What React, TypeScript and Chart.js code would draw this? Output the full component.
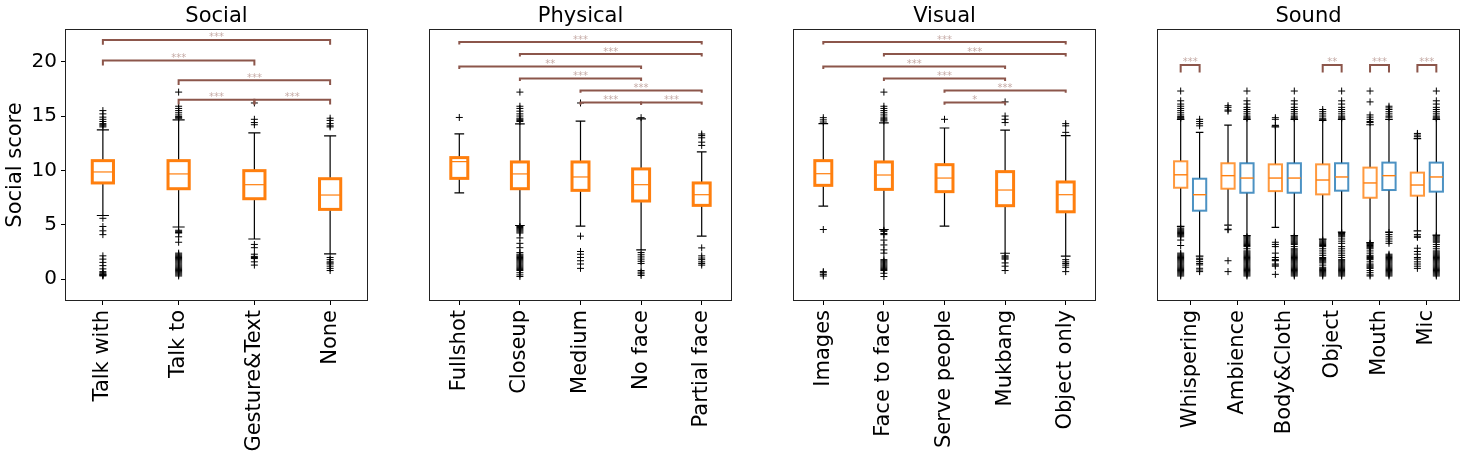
import React, { useEffect, useRef } from 'react';
import { Chart, registerables } from 'chart.js';

Chart.register(...registerables);
Chart.defaults.font.family = "'DejaVu Sans', sans-serif";

// ---------------- DATA ----------------
const socialLabels = ['Talk with', 'Talk to', 'Gesture&Text', 'None'];
const socialQ1 = [8.85, 8.32, 7.4, 6.42];
const socialMedian = [9.86, 9.68, 8.69, 7.74];
const socialQ3 = [10.9, 10.9, 9.98, 9.24];
const socialLow = [5.86, 4.8, 3.7, 2.33];
const socialHigh = [13.73, 14.65, 13.45, 13.18];
const socialOutliers = [
  [15.5, 15.2, 14.9, 14.7, 14.5, 14.3, 14.2, 14.1, 14.0, 5.6, 4.85, 4.45, 4.1, 2.15, 1.85, 1.55, 1.25, 0.95, 0.7, 0.6, 0.5, 0.45, 0.4, 0.35, 0.3],
  [17.2, 15.9, 15.7, 15.5, 15.3, 15.1, 14.95, 14.85, 14.8, 4.5, 4.4, 4.3, 4.25, 3.9, 3.4, 2.4, 2.3, 2.2, 2.1, 2.0, 1.9, 1.8, 1.7, 1.6, 1.5, 1.4, 1.3, 1.2, 1.1, 1.0, 0.9, 0.8, 0.7, 0.6, 0.5, 0.4, 0.3],
  [16.2, 14.7, 14.4, 14.2, 3.2, 2.9, 2.3, 2.1, 2.0, 1.9, 1.6, 1.3],
  [14.8, 14.6, 14.3, 14.1, 14.0, 2.0, 1.8, 1.6, 1.5, 1.4, 1.2, 1.0, 0.8],
];
const socialBrackets: [number, number, number, string][] = [
  [1, 4, 22.0, '***'],
  [1, 3, 20.1, '***'],
  [2, 4, 18.3, '***'],
  [2, 3, 16.5, '***'],
  [3, 4, 16.5, '***'],
];

const physicalLabels = ['Fullshot', 'Closeup', 'Medium', 'No face', 'Partial face'];
const physicalQ1 = [9.27, 8.32, 8.17, 7.19, 6.79];
const physicalMedian = [10.81, 9.68, 9.4, 8.69, 7.77];
const physicalQ3 = [11.18, 10.78, 10.78, 10.14, 8.85];
const physicalLow = [7.93, 4.94, 4.88, 2.7, 3.96];
const physicalHigh = [13.36, 14.28, 14.53, 14.74, 11.7];
const physicalOutliers = [
  [14.87],
  [17.2, 15.9, 15.7, 15.45, 15.2, 15.0, 14.8, 14.7, 14.6, 14.5, 4.85, 4.75, 4.65, 4.55, 4.45, 4.35, 4.25, 3.8, 3.3, 2.9, 2.45, 2.3, 2.2, 2.1, 2.0, 1.9, 1.8, 1.7, 1.6, 1.5, 1.4, 1.3, 1.2, 1.1, 1.0, 0.9, 0.8, 0.6, 0.4, 0.25],
  [16.2, 3.96, 2.55, 2.3, 2.0, 1.7, 1.4, 1.0],
  [14.85, 2.45, 2.25, 2.05, 1.85, 1.65, 1.45, 0.8, 0.65, 0.5, 0.35],
  [13.35, 13.2, 13.0, 12.6, 12.3, 2.88, 2.15, 1.95, 1.8, 1.6, 1.45, 1.3],
];
const physicalBrackets: [number, number, number, string][] = [
  [1, 5, 21.8, '***'],
  [2, 5, 20.7, '***'],
  [1, 4, 19.55, '**'],
  [2, 4, 18.45, '***'],
  [3, 5, 17.35, '***'],
  [3, 4, 16.25, '***'],
  [4, 5, 16.25, '***'],
];

const visualLabels = ['Images', 'Face to face', 'Serve people', 'Mukbang', 'Object only'];
const visualQ1 = [8.63, 8.26, 8.05, 6.76, 6.2];
const visualMedian = [9.7, 9.58, 9.3, 8.2, 7.77];
const visualQ3 = [10.9, 10.78, 10.53, 9.89, 8.94];
const visualLow = [6.72, 4.57, 4.88, 2.39, 2.12];
const visualHigh = [14.3, 14.37, 13.9, 13.7, 13.2];
const visualOutliers = [
  [14.85, 14.65, 14.45, 4.57, 0.7, 0.6, 0.45, 0.3],
  [17.2, 15.9, 15.7, 15.5, 15.3, 15.1, 14.9, 14.75, 14.65, 14.55, 4.5, 4.4, 4.2, 4.1, 3.6, 3.15, 2.7, 2.4, 1.8, 1.7, 1.6, 1.5, 1.4, 1.3, 1.2, 1.1, 1.0, 0.9, 0.8, 0.55, 0.25],
  [14.7],
  [16.3, 15.0, 14.7, 14.4, 2.15, 2.05, 1.95, 1.85, 1.5, 1.2, 0.8],
  [14.3, 14.1, 13.5, 1.8, 1.6, 1.45, 1.3, 1.1, 0.7],
];
const visualBrackets: [number, number, number, string][] = [
  [1, 5, 21.8, '***'],
  [2, 5, 20.7, '***'],
  [1, 4, 19.55, '***'],
  [2, 4, 18.45, '***'],
  [3, 5, 17.35, '***'],
  [3, 4, 16.25, '*'],
];

const soundLabels = ['Whispering', 'Ambience', 'Body&Cloth', 'Object', 'Mouth', 'Mic'];
const soundOrangeQ1 = [8.41, 8.32, 8.1, 7.8, 7.49, 7.68];
const soundOrangeMedian = [9.6, 9.52, 9.3, 9.12, 8.85, 8.66];
const soundOrangeQ3 = [10.84, 10.66, 10.56, 10.56, 10.26, 9.8];
const soundOrangeLow = [4.85, 4.97, 4.76, 3.68, 3.37, 4.45];
const soundOrangeHigh = [14.7, 14.16, 14.0, 14.6, 14.2, 12.93];
const soundBlueQ1 = [6.3, 7.95, 7.95, 8.14, 8.2, 8.05];
const soundBlueMedian = [7.77, 9.3, 9.3, 9.4, 9.52, 9.4];
const soundBlueQ3 = [9.24, 10.66, 10.66, 10.66, 10.72, 10.72];
const soundBlueLow = [2.12, 4.0, 4.0, 4.33, 4.33, 4.05];
const soundBlueHigh = [13.5, 14.7, 14.7, 14.7, 14.7, 14.7];
const soundOrangeOutliers = [
  [17.3, 16.4, 16.1, 15.9, 15.7, 15.5, 15.3, 15.1, 14.95, 14.85, 14.8, 4.7, 4.6, 4.5, 4.4, 4.3, 4.2, 4.1, 4.0, 3.9, 3.6, 3.1, 2.4, 2.3, 2.2, 2.1, 2.0, 1.9, 1.8, 1.7, 1.6, 1.5, 1.4, 1.3, 1.2, 1.1, 1.0, 0.9, 0.8, 0.7, 0.6, 0.5, 0.4, 0.3],
  [15.95, 15.8, 15.55, 15.45, 4.6, 4.55, 1.7, 0.7],
  [14.85, 14.7, 14.15, 14.1, 3.4, 3.2, 3.0, 2.4, 2.0, 1.8, 1.75, 1.7, 1.4, 1.3, 1.2, 0.45],
  [15.6, 15.4, 15.2, 15.0, 14.8, 14.7, 3.6, 3.5, 3.4, 3.3, 3.2, 3.1, 3.0, 2.8, 2.6, 2.4, 2.2, 2.0, 1.9, 1.8, 1.7, 1.6, 1.5, 1.3, 1.1, 1.0, 0.9, 0.8, 0.7, 0.6, 0.5, 0.4, 0.3],
  [17.3, 16.3, 15.1, 14.9, 14.7, 14.5, 14.4, 3.3, 3.2, 3.1, 3.0, 2.9, 2.8, 2.6, 2.4, 2.2, 2.1, 2.0, 1.9, 1.8, 1.6, 1.4, 1.3, 1.2, 1.1, 1.0, 0.8, 0.6, 0.4, 0.3],
  [13.4, 13.25, 13.1, 4.1, 3.95, 3.85, 2.85, 2.55, 2.3, 2.0, 1.85, 1.6, 1.4, 1.2, 1.0],
];
const soundBlueOutliers = [
  [14.7, 14.5, 14.3, 14.1, 1.93, 1.8, 1.62, 1.45, 1.32, 1.01, 0.85, 0.7],
  [17.3, 16.4, 16.1, 15.8, 15.6, 15.4, 15.2, 15.0, 14.9, 14.8, 3.9, 3.8, 3.7, 3.6, 3.5, 3.4, 3.3, 3.2, 3.1, 3.0, 2.8, 2.6, 2.5, 2.4, 2.3, 2.2, 2.1, 2.0, 1.9, 1.8, 1.7, 1.6, 1.5, 1.4, 1.3, 1.2, 1.1, 1.0, 0.9, 0.8, 0.7, 0.6, 0.5, 0.4, 0.3],
  [17.3, 16.4, 16.1, 15.8, 15.6, 15.4, 15.2, 15.0, 14.9, 14.8, 3.9, 3.8, 3.7, 3.6, 3.5, 3.4, 3.3, 3.2, 3.0, 2.8, 2.7, 2.6, 2.5, 2.4, 2.3, 2.2, 2.1, 2.0, 1.9, 1.8, 1.7, 1.6, 1.5, 1.4, 1.3, 1.2, 1.1, 1.0, 0.9, 0.8, 0.7, 0.6, 0.5, 0.4, 0.3],
  [17.3, 16.4, 16.1, 15.8, 15.6, 15.4, 15.2, 15.0, 14.9, 14.8, 4.3, 4.2, 4.1, 4.0, 3.9, 3.7, 3.5, 3.3, 3.0, 2.8, 2.6, 2.4, 2.2, 2.0, 1.8, 1.7, 1.6, 1.5, 1.4, 1.3, 1.2, 1.1, 1.0, 0.9, 0.8, 0.7, 0.6, 0.5, 0.4, 0.3],
  [15.9, 15.75, 15.6, 15.4, 15.2, 15.0, 14.9, 4.3, 4.1, 3.9, 3.7, 3.5, 3.3, 2.3, 2.2, 2.1, 2.0, 1.9, 1.8, 1.7, 1.6, 1.5, 1.4, 1.3, 1.2, 1.1, 1.0, 0.9, 0.8, 0.7, 0.6, 0.5, 0.4, 0.3],
  [17.3, 16.4, 16.1, 15.8, 15.6, 15.4, 15.2, 15.0, 14.9, 14.8, 4.0, 3.9, 3.8, 3.7, 3.6, 3.5, 3.4, 3.2, 3.0, 2.8, 2.6, 2.5, 2.4, 2.3, 2.2, 2.1, 2.0, 1.9, 1.8, 1.7, 1.6, 1.5, 1.4, 1.3, 1.2, 1.1, 1.0, 0.9, 0.8, 0.7, 0.6, 0.5, 0.4, 0.3],
];
const soundBrackets: [number, number, number, string][] = [
  [0.8, 1.2, 19.7, '***'],
  [3.8, 4.2, 19.7, '**'],
  [4.8, 5.2, 19.7, '***'],
  [5.8, 6.2, 19.7, '***'],
];

const yTicks = [0, 5, 10, 15, 20];

// ---------------- STYLE / LAYOUT ----------------
const H = 461;
const ORANGE = '#ff7f0e';
const ORANGE_A = 'rgba(255,127,14,0.8)';
const BLUE_A = 'rgba(31,119,180,0.8)';
const BRACKET = '#8c564b';
const BRACKET_TEXT = 'rgba(140,86,75,0.5)';
const LABEL_SIZE = 21;

type Box = { pos: number; q1: number; med: number; q3: number; lo: number; hi: number; color: string; lw: number; medLw: number };
type PanelSpec = {
  key: string; title: string; labels: string[]; xMin: number; xMax: number;
  canvasLeft: number; canvasWidth: number; plotLeft: number; plotRight: number;
  boxes: Box[]; outliers: { x: number; y: number }[]; brackets: [number, number, number, string][];
  tail: number; showY: boolean;
};

function makeBoxes(pos: number[], q1: number[], med: number[], q3: number[], lo: number[], hi: number[], color: string, lw: number, medLw: number): Box[] {
  return pos.map((p, i) => ({ pos: p, q1: q1[i], med: med[i], q3: q3[i], lo: lo[i], hi: hi[i], color, lw, medLw }));
}
function makeOutliers(pos: number[], lists: number[][]) {
  const pts: { x: number; y: number }[] = [];
  lists.forEach((l, i) => l.forEach((v) => pts.push({ x: pos[i], y: v })));
  return pts;
}

const p4 = socialLabels.map((_, i) => i + 1);
const p5 = physicalLabels.map((_, i) => i + 1);
const p5v = visualLabels.map((_, i) => i + 1);
const pO = soundLabels.map((_, i) => i + 1 - 0.2);
const pB = soundLabels.map((_, i) => i + 1 + 0.2);

const panels: PanelSpec[] = [
  {
    key: 'social', title: 'Social', labels: socialLabels, xMin: 0.5, xMax: 4.5,
    canvasLeft: 0, canvasWidth: 380, plotLeft: 65, plotRight: 368,
    boxes: makeBoxes(p4, socialQ1, socialMedian, socialQ3, socialLow, socialHigh, ORANGE, 3, 1.2),
    outliers: makeOutliers(p4, socialOutliers), brackets: socialBrackets, tail: 0.45, showY: true,
  },
  {
    key: 'physical', title: 'Physical', labels: physicalLabels, xMin: 0.5, xMax: 5.5,
    canvasLeft: 380, canvasWidth: 370, plotLeft: 429, plotRight: 732,
    boxes: makeBoxes(p5, physicalQ1, physicalMedian, physicalQ3, physicalLow, physicalHigh, ORANGE, 3, 1.2),
    outliers: makeOutliers(p5, physicalOutliers), brackets: physicalBrackets, tail: 0.22, showY: false,
  },
  {
    key: 'visual', title: 'Visual', labels: visualLabels, xMin: 0.5, xMax: 5.5,
    canvasLeft: 750, canvasWidth: 360, plotLeft: 793, plotRight: 1096,
    boxes: makeBoxes(p5v, visualQ1, visualMedian, visualQ3, visualLow, visualHigh, ORANGE, 3, 1.2),
    outliers: makeOutliers(p5v, visualOutliers), brackets: visualBrackets, tail: 0.22, showY: false,
  },
  {
    key: 'sound', title: 'Sound', labels: soundLabels, xMin: 0.3, xMax: 6.7,
    canvasLeft: 1110, canvasWidth: 357, plotLeft: 1157, plotRight: 1460,
    boxes: [
      ...makeBoxes(pO, soundOrangeQ1, soundOrangeMedian, soundOrangeQ3, soundOrangeLow, soundOrangeHigh, ORANGE_A, 2, 1.4),
      ...makeBoxes(pB, soundBlueQ1, soundBlueMedian, soundBlueQ3, soundBlueLow, soundBlueHigh, BLUE_A, 2, 1.4),
    ],
    outliers: [...makeOutliers(pO, soundOrangeOutliers), ...makeOutliers(pB, soundBlueOutliers)],
    brackets: soundBrackets, tail: 0.7, showY: false,
  },
];

const BOX_W = 0.28;
const CAP_W = 0.16;

function Panel({ spec }: { spec: PanelSpec }) {
  const ref = useRef<HTMLCanvasElement | null>(null);
  useEffect(() => {
    const canvas = ref.current;
    if (!canvas) return;
    const drawPlugin = {
      id: 'boxdraw_' + spec.key,
      beforeDatasetsDraw(chart: any) {
        const { ctx } = chart;
        const x = chart.scales.x;
        const y = chart.scales.y;
        ctx.save();
        for (const b of spec.boxes) {
          const xc = x.getPixelForValue(b.pos);
          const xl = x.getPixelForValue(b.pos - BOX_W / 2);
          const xr = x.getPixelForValue(b.pos + BOX_W / 2);
          const cl = x.getPixelForValue(b.pos - CAP_W / 2);
          const cr = x.getPixelForValue(b.pos + CAP_W / 2);
          const yq1 = y.getPixelForValue(b.q1);
          const yq3 = y.getPixelForValue(b.q3);
          const ylo = y.getPixelForValue(b.lo);
          const yhi = y.getPixelForValue(b.hi);
          const ymed = y.getPixelForValue(b.med);
          ctx.strokeStyle = '#000';
          ctx.lineWidth = 1.2;
          ctx.beginPath();
          ctx.moveTo(xc, yq3); ctx.lineTo(xc, yhi);
          ctx.moveTo(xc, yq1); ctx.lineTo(xc, ylo);
          ctx.moveTo(cl, yhi); ctx.lineTo(cr, yhi);
          ctx.moveTo(cl, ylo); ctx.lineTo(cr, ylo);
          ctx.stroke();
          ctx.fillStyle = '#fff';
          ctx.fillRect(xl, yq3, xr - xl, yq1 - yq3);
          ctx.strokeStyle = b.color;
          ctx.lineWidth = b.lw;
          ctx.strokeRect(xl, yq3, xr - xl, yq1 - yq3);
          ctx.strokeStyle = ORANGE;
          ctx.lineWidth = b.medLw;
          ctx.beginPath();
          ctx.moveTo(xl, ymed); ctx.lineTo(xr, ymed);
          ctx.stroke();
        }
        ctx.restore();
      },
      afterDatasetsDraw(chart: any) {
        const { ctx } = chart;
        const x = chart.scales.x;
        const y = chart.scales.y;
        ctx.save();
        ctx.strokeStyle = BRACKET;
        ctx.lineWidth = 2;
        ctx.lineJoin = 'miter';
        ctx.font = "10px 'DejaVu Sans', sans-serif";
        ctx.textAlign = 'center';
        ctx.textBaseline = 'alphabetic';
        ctx.fillStyle = BRACKET_TEXT;
        for (const [a, bb, lvl, txt] of spec.brackets) {
          const x1 = x.getPixelForValue(a);
          const x2 = x.getPixelForValue(bb);
          const yl = y.getPixelForValue(lvl);
          const yt = y.getPixelForValue(lvl - spec.tail);
          ctx.beginPath();
          ctx.moveTo(x1, yt); ctx.lineTo(x1, yl); ctx.lineTo(x2, yl); ctx.lineTo(x2, yt);
          ctx.stroke();
          ctx.fillText(txt, (x1 + x2) / 2, yl + 0.5);
        }
        ctx.restore();
      },
      afterDraw(chart: any) {
        const { ctx, chartArea } = chart;
        ctx.save();
        ctx.strokeStyle = '#222';
        ctx.lineWidth = 1;
        const l = Math.round(chartArea.left) + 0.5;
        const t = Math.round(chartArea.top) + 0.5;
        const r = Math.round(chartArea.right) - 0.5;
        const btm = Math.round(chartArea.bottom) - 0.5;
        ctx.strokeRect(l, t, r - l, btm - t);
        ctx.restore();
      },
    };

    const yAxisWidth = spec.plotLeft - spec.canvasLeft;
    const chart = new Chart(canvas, {
      type: 'scatter',
      data: {
        datasets: [
          {
            data: spec.outliers,
            pointStyle: 'cross',
            pointRadius: 3.5,
            pointHoverRadius: 3.5,
            borderColor: '#000',
            backgroundColor: 'rgba(0,0,0,0)',
            borderWidth: 1,
            showLine: false,
          } as any,
        ],
      },
      options: {
        animation: false,
        responsive: false,
        events: [],
        layout: {
          padding: {
            left: spec.showY ? 0 : yAxisWidth,
            right: spec.canvasLeft + spec.canvasWidth - spec.plotRight,
            top: 0,
            bottom: 0,
          },
        },
        plugins: {
          legend: { display: false },
          tooltip: { enabled: false },
          title: {
            display: true,
            text: spec.title,
            color: '#000',
            font: { size: LABEL_SIZE, weight: 'normal' as any, lineHeight: 1.15 },
            padding: { top: 4, bottom: 0.85 },
            fullSize: false,
          } as any,
        },
        scales: {
          x: {
            type: 'linear',
            min: spec.xMin,
            max: spec.xMax,
            afterBuildTicks: (scale: any) => {
              scale.ticks = spec.labels.map((_, i) => ({ value: i + 1 }));
            },
            afterFit: (scale: any) => {
              scale.height = H - 301;
            },
            ticks: {
              autoSkip: false,
              minRotation: 90,
              maxRotation: 90,
              padding: 5,
              color: '#000',
              font: { size: LABEL_SIZE },
              callback: (v: any) => spec.labels[Math.round(Number(v)) - 1] ?? '',
            },
            grid: { display: true, drawOnChartArea: false, drawTicks: true, tickLength: 4, color: '#000', lineWidth: 1 },
            border: { display: false },
          },
          y: {
            type: 'linear',
            min: -2,
            max: 23,
            display: spec.showY,
            afterBuildTicks: (scale: any) => {
              scale.ticks = yTicks.map((v) => ({ value: v }));
            },
            afterFit: (scale: any) => {
              scale.width = spec.showY ? yAxisWidth : 0;
            },
            ticks: { padding: 4, color: '#000', font: { size: 20 } },
            grid: { display: true, drawOnChartArea: false, drawTicks: true, tickLength: 4, color: '#000', lineWidth: 1 },
            border: { display: false },
            title: {
              display: true,
              text: 'Social score',
              color: '#000',
              font: { size: LABEL_SIZE },
              padding: { top: 3, bottom: 0 },
            },
          },
        },
      } as any,
      plugins: [drawPlugin],
    });
    return () => chart.destroy();
  }, [spec]);

  return (
    <canvas
      ref={ref}
      width={spec.canvasWidth}
      height={H}
      style={{ position: 'absolute', left: spec.canvasLeft, top: 0, width: spec.canvasWidth, height: H }}
    />
  );
}

export default function App() {
  return (
    <div style={{ position: 'fixed', left: 0, top: 0, width: 1467, height: H, background: '#fff', overflow: 'hidden' }}>
      {panels.map((p) => (
        <Panel key={p.key} spec={p} />
      ))}
    </div>
  );
}
